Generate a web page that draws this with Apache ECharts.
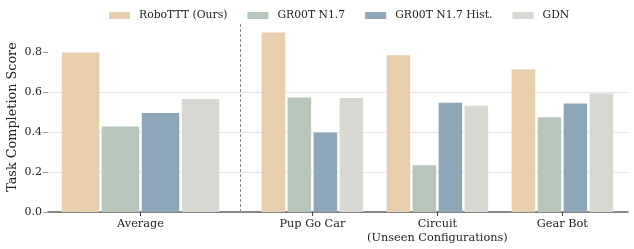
<!DOCTYPE html>
<html>
<head>
<meta charset="utf-8">
<script src="https://cdn.jsdelivr.net/npm/echarts@6/dist/echarts.min.js"></script>
<style>
html,body{margin:0;padding:0;background:#fff;}
#chart{width:634px;height:249px;}
</style>
</head>
<body>
<div id="chart"></div>
<script>
// ---- data ----
const categories = ['Average', 'Pup Go Car', 'Circuit\n(Unseen Configurations)', 'Gear Bot'];
const methods = ['RoboTTT (Ours)', 'GR00T N1.7', 'GR00T N1.7 Hist.', 'GDN'];
const roboTTT = [0.797, 0.897, 0.784, 0.714];
const gr00t = [0.427, 0.573, 0.234, 0.474];
const gr00tHist = [0.495, 0.397, 0.546, 0.543];
const gdn = [0.565, 0.570, 0.531, 0.593];
const yTicks = [0, 0.2, 0.4, 0.6, 0.8];

// ---- layout (not data) ----
const groupX = [0, 1.375, 2.375, 3.375];
const dividerX = 0.8;
const barW = [0.30, 0.188, 0.188, 0.188];
const barPitch = [0.32, 0.208, 0.208, 0.208];
const colors = ['#E8CEAC', '#B6C6BB', '#8DA6BA', '#D7D8D1'];
const FONT = 'DejaVu Serif';

const seriesValues = [roboTTT, gr00t, gr00tHist, gdn];

function renderBar(params, api) {
  const gx = api.value(0), v = api.value(1), gi = api.value(2);
  const si = params.seriesIndex;
  const unit = api.size([1, 0])[0];
  const w = barW[gi] * unit;
  const off = (si - 1.5) * barPitch[gi] * unit;
  const top = api.coord([gx, v]);
  const base = api.coord([gx, 0]);
  return {
    type: 'rect',
    shape: { x: top[0] + off - w / 2, y: top[1], width: w, height: base[1] - top[1] },
    style: { fill: colors[si] }
  };
}

const series = methods.map((name, si) => ({
  name: name,
  type: 'custom',
  renderItem: renderBar,
  itemStyle: { color: colors[si] },
  encode: { x: 0, y: 1 },
  data: seriesValues[si].map((v, gi) => [groupX[gi], v, gi]),
  z: 3
}));
series.push({
  type: 'line',
  name: '_divider',
  data: [[dividerX, 0], [dividerX, 0.95]],
  symbol: 'none',
  lineStyle: { color: '#8a8a8a', width: 1, type: [3, 2] },
  silent: true,
  z: 2
});

const chart = echarts.init(document.getElementById('chart'));
chart.setOption({
  animation: false,
  backgroundColor: '#fff',
  textStyle: { fontFamily: FONT },
  legend: {
    data: methods.map((m, i) => ({ name: m, icon: 'rect', itemStyle: { color: colors[i] } })),
    top: 5,
    left: 104,
    itemWidth: 21,
    itemHeight: 7,
    itemGap: 20,
    textStyle: { fontFamily: FONT, fontSize: 10.8, color: '#222', padding: [0, 0, 0, 4] }
  },
  grid: { left: 48, right: 6, top: 22, bottom: 37, containLabel: false, outerBoundsMode: 'none' },
  xAxis: {
    type: 'value',
    min: -0.74,
    max: 3.9,
    splitLine: { show: false },
    axisLine: { show: true, onZero: false, lineStyle: { color: '#666', width: 1.5 } },
    axisTick: { show: true, customValues: groupX, length: 4, lineStyle: { color: '#444', width: 1 } },
    axisLabel: {
      customValues: groupX,
      formatter: function (v) {
        const i = groupX.findIndex(g => Math.abs(g - v) < 1e-6);
        return i >= 0 ? categories[i] : '';
      },
      fontFamily: FONT, fontSize: 11.3, color: '#222', margin: 5, lineHeight: 14
    }
  },
  yAxis: {
    type: 'value',
    min: 0,
    max: 0.95,
    interval: 0.2,
    name: 'Task Completion Score',
    nameLocation: 'middle',
    nameGap: 29,
    nameMoveOverlap: false,
    nameTextStyle: { fontFamily: FONT, fontSize: 12.8, color: '#222' },
    axisLine: { show: true, onZero: false, lineStyle: { color: 'rgba(0,0,0,0)' } },
    axisTick: { show: true, inside: false, customValues: yTicks, length: 5, lineStyle: { color: '#999' } },
    axisLabel: {
      customValues: yTicks,
      formatter: v => v.toFixed(1),
      fontFamily: FONT, fontSize: 11, color: '#222', margin: 6
    },
    splitLine: { show: true, showMaxLine: false, lineStyle: { color: '#e4e4e4', width: 1 } }
  },
  series: series
});
</script>
</body>
</html>
